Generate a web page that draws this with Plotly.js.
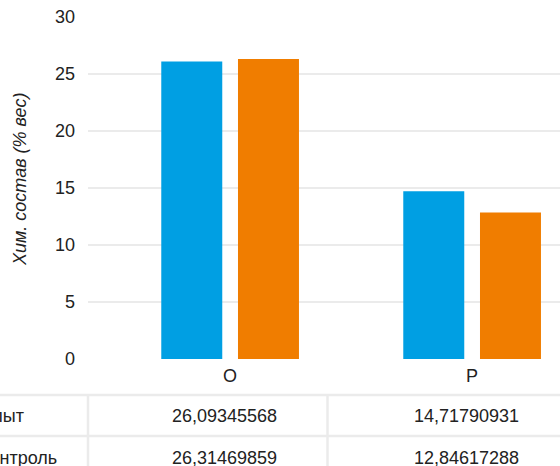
<!DOCTYPE html>
<html>
<head>
<meta charset="utf-8">
<script src="https://cdn.plot.ly/plotly-3.0.1.min.js"></script>
<style>html,body{margin:0;padding:0;background:#fff;overflow:hidden}#chart{width:560px;height:466px}</style>
</head>
<body>
<div id="chart"></div>
<script>
const categories = ["O", "P"];
const seriesNames = ["Опыт", "Контроль"];
const opytValues = [26.09345568, 14.71790931];
const kontrolValues = [26.31469859, 12.84617288];
const tableOpytText = ["26,09345568", "14,71790931"];
const tableKontrolText = ["26,31469859", "12,84617288"];
const yTickValues = [0, 5, 10, 15, 20, 25, 30];
const yTitle = "Хим. состав (% вес)";

const FONT = "Liberation Sans, Arial, sans-serif";
const blue = "#009FE3";
const orange = "#F07D00";
const lineColor = "#ebebeb";

const traces = [
  {type: "bar", name: seriesNames[0], x: categories, y: opytValues,
   marker: {color: blue}, width: 0.252, offset: -0.284, hoverinfo: "y"},
  {type: "bar", name: seriesNames[1], x: categories, y: kontrolValues,
   marker: {color: orange}, width: 0.252, offset: 0.033, hoverinfo: "y"}
];

// paper-coordinate helpers (plot area: x 88..560, y 17..359)
const plotW = 472, plotH = 342;
const py = px => (359 - px) / plotH;
const pxX = px => (px - 88) / plotW;

const annotations = [];
annotations.push({xref: "paper", yref: "paper", x: pxX(20), y: py(180), xanchor: "center", yanchor: "middle",
  textangle: -90, text: "<i>" + yTitle + "</i>", showarrow: false, font: {family: FONT, size: 18, color: "#222"}});

const rows = [
  {label: seriesNames[0], vals: tableOpytText, ypx: 416},
  {label: seriesNames[1], vals: tableKontrolText, ypx: 458}
];
rows.forEach(r => {
  annotations.push({xref: "paper", yref: "paper", x: 0, y: py(r.ypx), xanchor: "left", yanchor: "middle",
    xshift: -111, text: r.label, showarrow: false, font: {family: FONT, size: 18, color: "#222"}});
  r.vals.forEach((v, i) => {
    annotations.push({xref: "x", yref: "paper", x: categories[i], y: py(r.ypx), xanchor: "center", yanchor: "middle",
      xshift: -6, text: v, showarrow: false, font: {family: FONT, size: 18, color: "#222"}});
  });
});

const shapes = [
  {type: "line", xref: "paper", yref: "paper", x0: -0.2, x1: 1.0, y0: py(395), y1: py(395), line: {color: lineColor, width: 2.5}},
  {type: "line", xref: "paper", yref: "paper", x0: -0.2, x1: 1.0, y0: py(436), y1: py(436), line: {color: lineColor, width: 2.5}},
  {type: "line", xref: "paper", yref: "paper", x0: 0, x1: 0, y0: py(395), y1: py(470), line: {color: lineColor, width: 2.5}},
  {type: "line", xref: "paper", yref: "paper", x0: pxX(327.5), x1: pxX(327.5), y0: py(395), y1: py(470), line: {color: lineColor, width: 2.5}}
];

const layout = {
  width: 560, height: 466,
  margin: {l: 88, r: 0, t: 17, b: 107, pad: 0},
  paper_bgcolor: "#fff", plot_bgcolor: "#fff",
  showlegend: false,
  barmode: "overlay",
  font: {family: FONT, size: 18, color: "#222"},
  xaxis: {type: "category", range: [-142/242, 330/242], showgrid: false, zeroline: false,
    showline: false, ticks: "", ticklabelstandoff: 4, tickfont: {family: FONT, size: 18, color: "#222"}, fixedrange: true},
  yaxis: {range: [0, 30], tickvals: yTickValues, showgrid: true, gridcolor: lineColor, gridwidth: 2,
    zeroline: false, showline: false, ticks: "", ticklabelstandoff: 12,
    tickfont: {family: FONT, size: 18, color: "#222"}, fixedrange: true},
  annotations: annotations,
  shapes: shapes
};

Plotly.newPlot("chart", traces, layout, {displayModeBar: false, staticPlot: true});
</script>
</body>
</html>
